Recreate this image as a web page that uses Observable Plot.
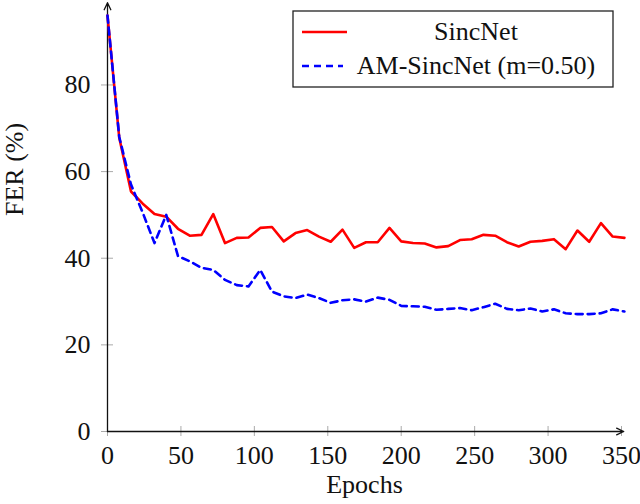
<!DOCTYPE html>
<html>
<head>
<meta charset="utf-8">
<script src="https://cdn.jsdelivr.net/npm/d3@7"></script>
<script src="https://cdn.jsdelivr.net/npm/@observablehq/plot@0.6"></script>
<style>
  body { margin: 0; background: #fff; }
  #chart { width: 640px; height: 504px; }
</style>
</head>
<body>
<div id="chart"></div>
<script>
// Données (une valeur toutes les 8 époques)
const epochs = d3.range(0, 353, 8);
const sincnet = [96, 67.8, 55.4, 52.6, 50.2, 49.6, 46.8, 45.2, 45.4, 50.2,
  43.5, 44.7, 44.8, 47.0, 47.2, 43.9, 45.8, 46.5, 45.0, 43.8,
  46.6, 42.4, 43.7, 43.7, 47.0, 43.9, 43.5, 43.4, 42.5, 42.8,
  44.2, 44.4, 45.4, 45.2, 43.7, 42.7, 43.8, 44.0, 44.4, 42.1,
  46.4, 43.8, 48.1, 45.0, 44.7];
const amSincnet = [96, 68, 57, 50.5, 43.5, 50, 40.5, 39.3, 37.8, 37.3,
  35, 33.8, 33.5, 37.3, 32.3, 31.2, 30.8, 31.6, 30.8, 29.7,
  30.3, 30.5, 30.0, 30.9, 30.4, 29.0, 28.9, 28.8, 28.1, 28.3,
  28.5, 28.0, 28.7, 29.5, 28.3, 28.0, 28.4, 27.7, 28.2, 27.3,
  27.1, 27.1, 27.3, 28.2, 27.7];
const xTicks = [0, 50, 100, 150, 200, 250, 300, 350];
const yTicks = [0, 20, 40, 60, 80];
const seriesNames = ["SincNet", "AM-SincNet (m=0.50)"];

const xMax = 350, xArrowEnd = 351.5;
const yMax = 99.5;
const font = "'Liberation Serif', 'Times New Roman', serif";
const red = "#ff0000", blue = "#0000ff";
const dash = "7,5";

const redData = epochs.map((e, i) => ({Epoch: e, FER: sincnet[i]}));
const blueData = epochs.map((e, i) => ({Epoch: e, FER: amSincnet[i]}));

const chartDiv = document.getElementById("chart");

const plot = Plot.plot({
  width: 640,
  height: 504,
  marginLeft: 107,
  marginRight: 19,
  marginTop: 0,
  marginBottom: 73,
  style: {fontFamily: font, background: "#fff", overflow: "visible"},
  x: {domain: [0, xMax]},
  y: {domain: [0, yMax]},
  marks: [
    // ticks gris qui traversent les axes
    Plot.ruleX(xTicks, {x: d => d, y1: 0, y2: 0, insetTop: -5, insetBottom: -5, stroke: "#aaa", strokeWidth: 1}),
    Plot.ruleY(yTicks, {y: d => d, x1: 0, x2: 0, insetLeft: -6, insetRight: -6, stroke: "#aaa", strokeWidth: 1}),
    Plot.axisX(xTicks, {tickSize: 0, tickPadding: 14, fontSize: 26, fill: "#111", label: null}),
    Plot.axisY(yTicks, {tickSize: 0, tickPadding: 17, fontSize: 26, fill: "#111", label: null}),
    // axes avec flèche
    Plot.arrow([{x1: 0, y1: 0, x2: xArrowEnd, y2: 0}], {x1: "x1", y1: "y1", x2: "x2", y2: "y2", stroke: "#111", strokeWidth: 1.3, headLength: 9, headAngle: 50}),
    Plot.arrow([{x1: 0, y1: 0, x2: 0, y2: yMax - 0.5}], {x1: "x1", y1: "y1", x2: "x2", y2: "y2", stroke: "#111", strokeWidth: 1.3, headLength: 9, headAngle: 50}),
    // séries
    Plot.line(redData, {x: "Epoch", y: "FER", stroke: red, strokeWidth: 2.6}),
    Plot.line(blueData, {x: "Epoch", y: "FER", stroke: blue, strokeWidth: 2.6, strokeDasharray: dash}),
    // titres d'axes
    Plot.text(["Epochs"], {frameAnchor: "bottom", dy: 61, text: d => d, fontSize: 26, fill: "#111"}),
    Plot.text(["FER (%)"], {frameAnchor: "left", dx: -93, rotate: -90, text: d => d, fontSize: 26, fill: "#111"})
  ]
});

// légende dessinée à la main dans le svg
const svg = d3.select(plot);
const lg = svg.append("g").attr("font-family", font).attr("font-size", 26).attr("fill", "#111");
lg.append("rect").attr("x", 293).attr("y", 11).attr("width", 320).attr("height", 76)
  .attr("fill", "#fff").attr("stroke", "#222").attr("stroke-width", 1.3);
const rows = [
  {name: seriesNames[0], color: red, dashed: false, y: 32},
  {name: seriesNames[1], color: blue, dashed: true, y: 66}
];
rows.forEach(r => {
  lg.append("line").attr("x1", 302).attr("x2", r.dashed ? 343 : 347).attr("y1", r.y).attr("y2", r.y)
    .attr("stroke", r.color).attr("stroke-width", 2.6)
    .attr("stroke-dasharray", r.dashed ? dash : null);
  lg.append("text").attr("x", 476).attr("y", r.y).attr("dy", "0.32em")
    .attr("text-anchor", "middle").text(r.name);
});

chartDiv.appendChild(plot);
</script>
</body>
</html>
